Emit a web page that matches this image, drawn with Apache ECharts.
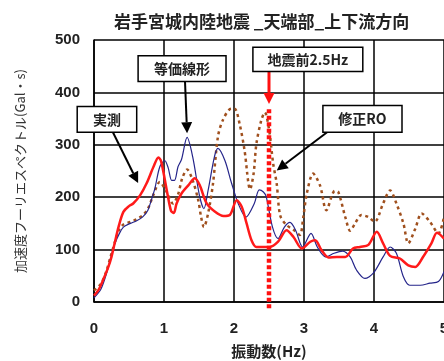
<!DOCTYPE html>
<html><head><meta charset="utf-8">
<script src="https://cdn.jsdelivr.net/npm/echarts@6/dist/echarts.min.js"></script>
<style>html,body{margin:0;padding:0;background:#fff}#c{width:444px;height:361px}</style>
</head><body><div id="c"></div>
<script>
const titleText = '岩手宮城内陸地震 _天端部_上下流方向';
const xName = '振動数(Hz)';
const yName = '加速度フーリエスペクトル(Gal・s)';
const xTicks = [0, 1, 2, 3, 4, 5];
const yTicks = [0, 100, 200, 300, 400, 500];
const seriesNames = ['実測', '等価線形', '修正RO'];

// 実測 (measured)
const measured = [
  [0,12],[0.06,22],[0.13,42],[0.2,65],[0.25,86],[0.3,115],[0.35,143],[0.42,172],[0.5,183],
  [0.56,188],[0.66,204],[0.75,226],[0.85,258],[0.92,276],[0.96,268],[1.04,213],[1.1,174],
  [1.14,170],[1.18,188],[1.25,207],[1.35,223],[1.44,236],[1.51,223],[1.61,188],[1.73,172],
  [1.85,164],[1.94,166],[2.04,194],[2.11,182],[2.18,150],[2.25,118],[2.32,105],[2.42,105],
  [2.51,105],[2.63,115],[2.75,137],[2.85,124],[2.97,102],[3.09,115],[3.16,118],[3.25,99],
  [3.35,85],[3.47,86],[3.59,86],[3.70,102],[3.80,105],[3.92,109],[4.04,134],[4.13,112],
  [4.23,88],[4.37,83],[4.49,70],[4.59,67],[4.70,86],[4.82,112],[4.90,132],[5.0,121]
];
// 等価線形 (equivalent linear)
const equivLinear = [
  [0,8],[0.1,25],[0.18,55],[0.24,85],[0.3,112],[0.36,130],[0.42,143],[0.52,150],[0.61,155],
  [0.7,163],[0.77,175],[0.82,195],[0.87,217],[0.94,258],[1.01,270],[1.06,256],[1.11,232],
  [1.15,232],[1.2,258],[1.25,272],[1.33,314],[1.41,277],[1.51,201],[1.57,178],[1.63,213],
  [1.72,277],[1.77,293],[1.87,270],[1.96,229],[2.06,188],[2.17,162],[2.29,188],[2.36,214],
  [2.42,210],[2.46,201],[2.55,143],[2.63,121],[2.72,143],[2.8,152],[2.88,137],[2.98,105],
  [3.1,131],[3.19,105],[3.31,86],[3.43,93],[3.55,97],[3.66,86],[3.75,61],[3.87,45],[3.99,55],
  [4.13,86],[4.23,105],[4.32,93],[4.42,48],[4.51,32],[4.66,32],[4.8,36],[4.92,39],[5.0,58]
];
// 修正RO (modified RO)
const modifiedRO = [
  [0,22],[0.1,35],[0.18,60],[0.24,88],[0.3,115],[0.36,138],[0.42,148],[0.52,153],[0.61,158],
  [0.7,166],[0.77,178],[0.85,205],[0.94,229],[1.03,212],[1.13,188],[1.2,205],[1.26,236],
  [1.33,253],[1.41,232],[1.49,194],[1.53,162],[1.57,143],[1.63,169],[1.70,226],[1.77,315],
  [1.84,347],[1.96,369],[2.01,369],[2.08,340],[2.15,290],[2.23,215],[2.28,245],[2.32,302],
  [2.39,347],[2.44,362],[2.5,330],[2.56,264],[2.61,226],[2.66,165],[2.75,147],[2.85,138],
  [2.94,128],[2.99,162],[3.04,207],[3.13,245],[3.23,222],[3.32,175],[3.44,212],[3.49,210],
  [3.59,162],[3.66,136],[3.73,150],[3.82,166],[3.92,162],[4.01,153],[4.13,188],[4.23,213],
  [4.32,188],[4.42,150],[4.49,112],[4.59,140],[4.68,169],[4.80,153],[4.92,131],[5.0,162]
];
// 地震前 2.5Hz marker
const preQuakeFreq = 2.5;
const preQuakeSpan = [-12, 372];

// annotation callouts in data coordinates: box [x1,y1,x2,y2], arrow from -> to
const notes = [
  { text: '実測', box: [-0.24, 373, 0.61, 324], from: [0.27, 324], to: [0.63, 227], color: '#000' },
  { text: '等価線形', box: [0.63, 470, 1.886, 421], from: [1.3, 421], to: [1.33, 322], color: '#000' },
  { text: '地震前2.5Hz', box: [2.27, 486, 3.84, 440], from: [2.5, 440], to: [2.5, 378], color: '#ff1010' },
  { text: '修正RO', box: [3.27, 375, 4.4, 324], from: [3.33, 324], to: [2.61, 251], color: '#000' }
];

const chart = echarts.init(document.getElementById('c'));
const FONT = '"Liberation Sans", Arial, "Noto Sans CJK JP", sans-serif';
const JFONT = '"Noto Sans CJK JP", "Liberation Sans", sans-serif';

chart.setOption({
  animation: false,
  backgroundColor: '#fff',
  title: {
    text: titleText, left: 109, top: 8,
    textStyle: { fontFamily: JFONT, fontSize: 17, fontWeight: 'bold', color: '#222' }
  },
  grid: { left: 94, right: 0, top: 40, bottom: 59, containLabel: false, outerBoundsMode: 'none' },
  xAxis: {
    type: 'value', min: xTicks[0], max: xTicks[xTicks.length - 1], interval: 1,
    name: xName, nameLocation: 'middle', nameGap: 42,
    nameTextStyle: { fontFamily: JFONT, fontSize: 15, fontWeight: 'bold', color: '#222' },
    axisLine: { show: true, lineStyle: { color: '#000', width: 1.5 } },
    axisTick: { show: false },
    axisLabel: { margin: 19, fontFamily: FONT, fontSize: 15, fontWeight: 'bold', color: '#222',
      showMaxLabel: true },
    splitLine: { show: true, lineStyle: { color: '#000', width: 1.5 } }
  },
  yAxis: {
    type: 'value', min: yTicks[0], max: yTicks[yTicks.length - 1], interval: 100,
    name: yName, nameLocation: 'middle', nameGap: 67, nameRotate: 90,
    nameTextStyle: { fontFamily: JFONT, fontSize: 13, color: '#333' },
    axisLine: { show: true, lineStyle: { color: '#000', width: 1.5 } },
    axisTick: { show: false },
    axisLabel: { margin: 14, fontFamily: FONT, fontSize: 15, fontWeight: 'bold', color: '#222' },
    splitLine: { show: true, lineStyle: { color: '#000', width: 1.5 } }
  },
  series: [
    { name: seriesNames[2], type: 'line', data: modifiedRO, smooth: 0.3, showSymbol: false, z: 3,
      lineStyle: { color: '#a0501e', width: 2.5, type: [3, 3.5] } },
    { name: seriesNames[1], type: 'line', data: equivLinear, smooth: 0.3, showSymbol: false, z: 4,
      lineStyle: { color: '#25258a', width: 1.2 } },
    { name: seriesNames[0], type: 'line', data: measured, smooth: 0.3, showSymbol: false, z: 5,
      lineStyle: { color: '#ff1a1a', width: 2.5 } },
    { name: '地震前', type: 'line', clip: false, showSymbol: false, z: 6,
      data: [[preQuakeFreq, preQuakeSpan[0]], [preQuakeFreq, preQuakeSpan[1]]],
      lineStyle: { color: '#ff1010', width: 4.5, type: [4, 2.5] } }
  ]
});

function px(p) { return chart.convertToPixel({ gridIndex: 0 }, p); }
const graphics = [];
notes.forEach(function (n) {
  const a = px([n.box[0], n.box[1]]), b = px([n.box[2], n.box[3]]);
  const f = px(n.from), t = px(n.to);
  const dx = t[0] - f[0], dy = t[1] - f[1], L = Math.sqrt(dx * dx + dy * dy);
  const ux = dx / L, uy = dy / L, hl = 11, hw = 5.5;
  const bx = t[0] - ux * hl, by = t[1] - uy * hl;
  graphics.push({ type: 'line', z: 20, shape: { x1: f[0], y1: f[1], x2: bx, y2: by },
    style: { stroke: n.color, lineWidth: n.color === '#000' ? 2 : 3 } });
  graphics.push({ type: 'polygon', z: 20, shape: { points: [[t[0], t[1]],
    [bx - uy * hw, by + ux * hw], [bx + uy * hw, by - ux * hw]] },
    style: { fill: n.color } });
  graphics.push({ type: 'rect', z: 21, shape: { x: a[0], y: a[1], width: b[0] - a[0], height: b[1] - a[1] },
    style: { fill: '#fff', stroke: '#000', lineWidth: 1.5 } });
  graphics.push({ type: 'text', z: 22, x: (a[0] + b[0]) / 2, y: (a[1] + b[1]) / 2,
    style: { text: n.text, fill: '#222', font: 'bold 14px ' + JFONT, align: 'center', verticalAlign: 'middle' } });
});
chart.setOption({ graphic: graphics });
</script></body></html>
